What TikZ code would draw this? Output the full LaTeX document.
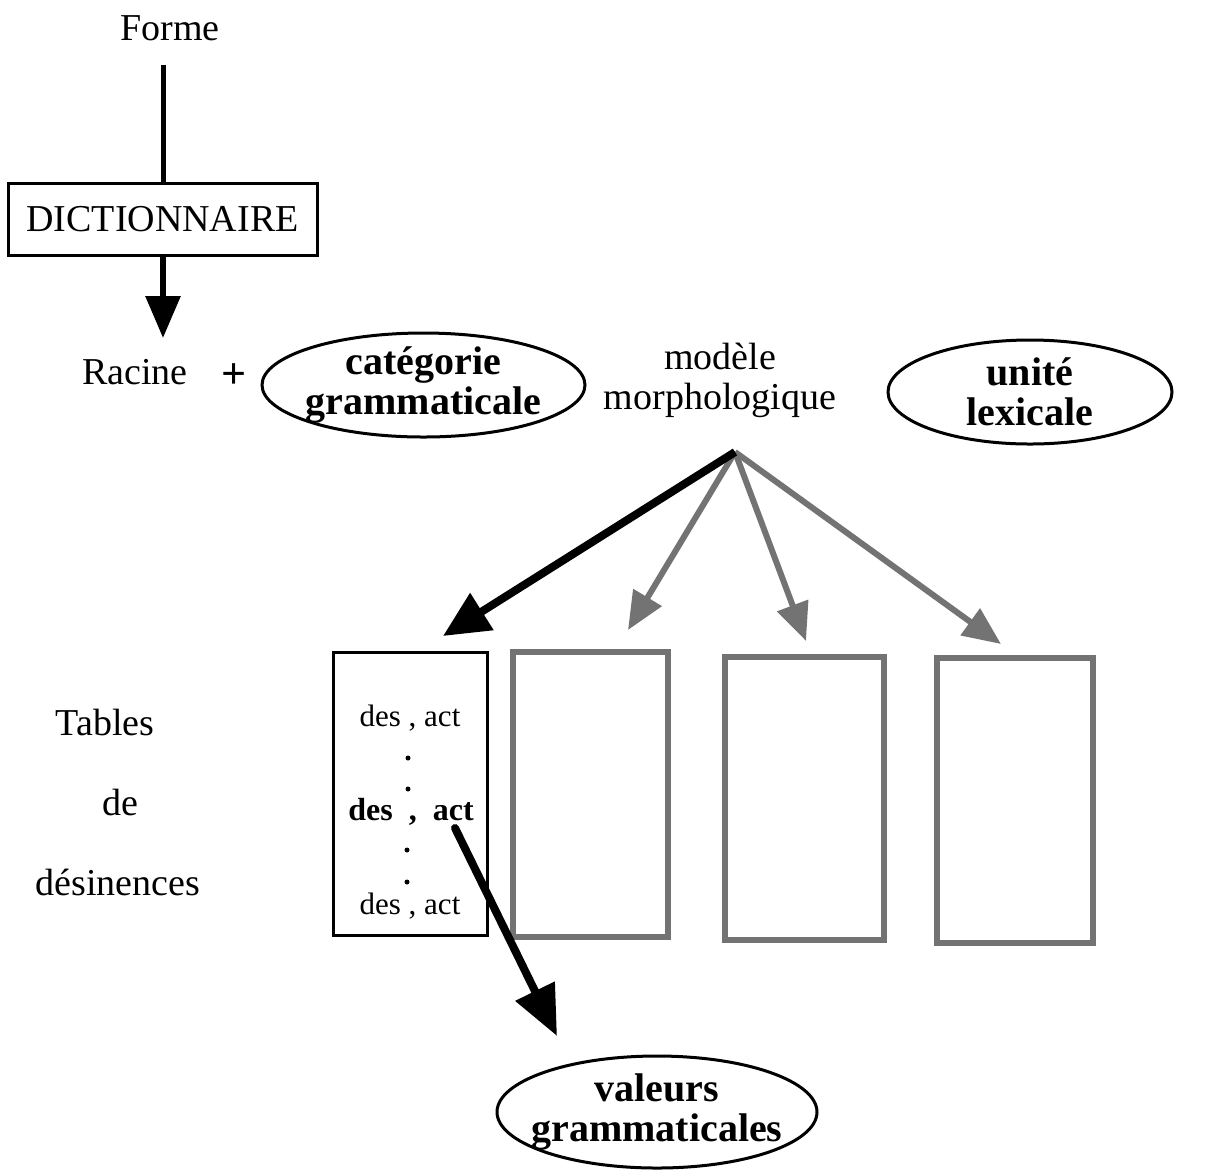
\documentclass[tikz,border=0pt]{standalone}
\usepackage{fontspec}
\setmainfont{Liberation Serif}
\usetikzlibrary{shapes.geometric,arrows.meta}
\begin{document}
\begin{tikzpicture}[x=0.5pt,y=-0.5pt,
  plain/.style={font=\fontsize{19}{21}\selectfont, inner sep=0pt},
  strong/.style={font=\fontsize{20}{20}\bfseries\selectfont, align=center, inner sep=0pt},
  oval/.style={draw, ellipse, line width=1.5pt, inner sep=0pt},
  entry/.style={font=\fontsize{15.5}{16}\selectfont, inner sep=0pt},
  tablebox/.style={draw, line width=1.5pt, inner sep=0pt},
  greybox/.style={draw=black!55, line width=3pt, inner sep=0pt},
  blackarrow/.style={line width=4pt, -{Triangle[length=23pt,width=21pt]}},
  greyarrow/.style={draw=black!55, line width=3pt, -{Triangle[length=19pt,width=16pt]}, fill=black!55},
  dotmark/.style={circle, fill, inner sep=0pt, minimum size=2.5pt}]
\useasboundingbox (0,0) rectangle (1209,1174);

% top chain
\node[plain] (forme) at (170,28) {Forme};
\node[draw, line width=1.5pt, minimum width=154.5pt, minimum height=36pt, inner sep=0pt,
      font=\fontsize{19}{21}\selectfont] (dict) at (162.5,219) {DICTIONNAIRE};
\coordinate (formeEnd) at (163,65);
\coordinate (racTip) at (163,338);
\draw[line width=2.5pt] (formeEnd) -- (dict.north -| formeEnd);
\draw[line width=3pt, -{Triangle[length=21pt,width=17pt]}] (dict.south -| racTip) -- (racTip);

\node[plain] (racine) at (135,372) {Racine};
\node[font=\fontsize{22}{22}\bfseries\selectfont, inner sep=0pt] (plus) at (234,376) {+};
\node[oval, minimum width=161.5pt, minimum height=52pt] (cat) at (423.5,385) {};
\node[strong] (cattxt) at (cat) {catégorie\\grammaticale};
\node[plain, align=center, font=\fontsize{19}{20}\selectfont] (modele) at (720,380) {modèle\\morphologique};
\node[oval, minimum width=142pt, minimum height=52pt] (unite) at (1030,392) {};
\node[strong] (unitetxt) at (unite) {unité\\lexicale};

% tables of endings
\node[plain] (tab1) at (105,722) {Tables};
\node[plain] (tab2) at (120,802) {de};
\node[plain] (tab3) at (118,882) {désinences};

\node[tablebox, minimum width=77pt, minimum height=141.5pt] (b1) at (410,793.5) {};
\node[greybox, minimum width=77.5pt, minimum height=142.5pt] (b2) at (590.5,794.5) {};
\node[greybox, minimum width=79.5pt, minimum height=141.5pt] (b3) at (804.5,798.5) {};
\node[greybox, minimum width=78pt, minimum height=142.5pt] (b4) at (1015,800.5) {};

\node[entry] (e1) at (410,718) {des , act};
\node[dotmark] (d1) at (408,758) {};
\node[dotmark] (d2) at (408,789) {};
\node[entry, font=\fontsize{16}{16}\bfseries\selectfont] (e2) at (411,812) {des \ , \ act};
\node[dotmark] (d3) at (407,850) {};
\node[dotmark] (d4) at (407,882) {};
\node[entry] (e3) at (410,906) {des , act};

% arrows out of the morphological model
\coordinate (src) at (735,452);
\coordinate (t1) at (443,636);
\coordinate (t2) at (628,630);
\coordinate (t3) at (806,641);
\coordinate (t4) at (1001,644);
\draw[greyarrow] (src) -- (t2);
\draw[greyarrow] (src) -- (t3);
\draw[greyarrow] (src) -- (t4);
\draw[blackarrow] (src) -- (t1);

% grammatical values
\node[oval, minimum width=160pt, minimum height=56pt] (val) at (657,1112) {};
\node[strong] (valtxt) at (val) {valeurs\\grammaticales};
\coordinate (actStart) at (455,828);
\coordinate (valTip) at (557,1036);
\draw[line width=4pt, line cap=round, -{Triangle[length=25pt,width=21pt]}] (actStart) -- (valTip);
\end{tikzpicture}
\end{document}
